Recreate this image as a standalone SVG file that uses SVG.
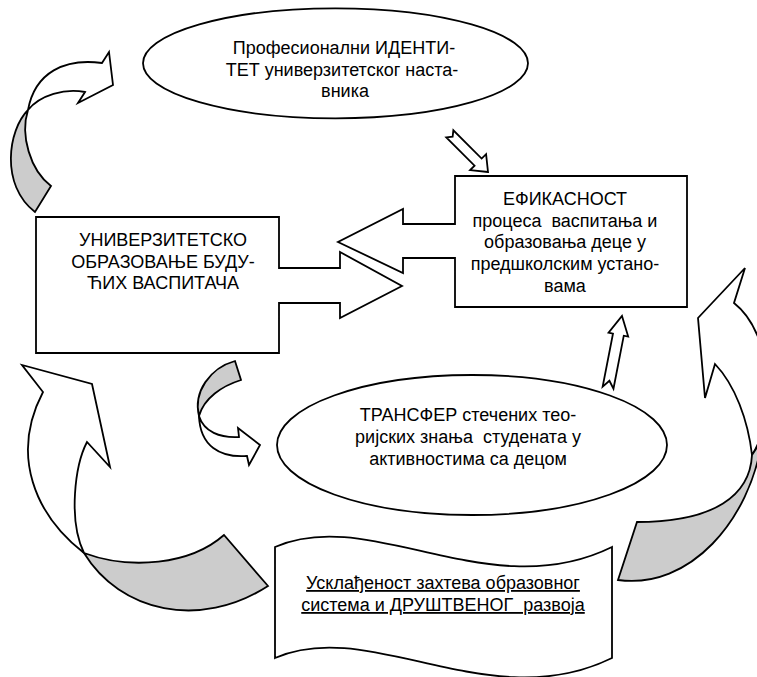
<svg xmlns="http://www.w3.org/2000/svg" width="757" height="677" viewBox="0 0 757 677">
<style>
.s{fill:#fff;stroke:#000;stroke-width:1.8;stroke-linejoin:miter}
.g{fill:#cccccc;stroke:#000;stroke-width:1.8;stroke-linejoin:miter}
.t{font-family:"Liberation Sans",Arial,sans-serif;font-size:18px;text-anchor:middle;fill:#000;white-space:pre}
.u{text-decoration:underline}
</style>
<rect width="757" height="677" fill="#fff"/>
<g id="connectors">
  <path class="s" d="M 28,110 C 35,72 65,58 102,63 L 109,52 L 113,85 L 78,103 L 85,92 C 65,88 40,95 28,110 Z"/>
  <path class="g" d="M 28,110 C 8,130 0,185 35,212 L 51,186 C 30,170 20,135 28,110 Z"/>
  <path class="s" d="M 199,416 C 204,432 220,438 239,437 L 238,428 L 260,445 L 249,465 L 247,456 C 220,458 200,446 199,416 Z"/>
  <path class="g" d="M 199,416 C 193,392 210,368 235,361 L 241,380 C 222,386 204,398 199,416 Z"/>
  <path class="s" d="M 84,553 C 35,515 10,455 43,392 L 22,365 L 92,384 L 110,467 L 87,442 C 75,465 68,520 84,553 Z"/>
  <path class="g" d="M 84,553 C 120,612 200,630 268,586 L 224,535 C 190,565 130,570 84,553 Z"/>
  <path class="s" d="M 734,303 C 775,335 775,420 752,455 C 748,420 735,385 715,364 L 705,398 L 698,318 L 745,268 Z"/>
  <path class="g" d="M 752,455 C 750,495 715,522 637,522 L 618,580 C 690,590 750,520 762,440 Z"/>
  <polygon class="s" transform="translate(488,172) rotate(45)" points="0,0 -14,11.3 -14,5 -54,5 -50,0 -54,-5 -14,-5 -14,-11.3"/>
  <polygon class="s" transform="translate(622,316) rotate(-79)" points="0,0 -19,10 -19,5.5 -73,5.5 -66,0 -73,-5.5 -19,-5.5 -19,-10"/>
</g>
<g id="identitet">
  <ellipse class="s" cx="335.5" cy="63.3" rx="192.5" ry="55"/>
  <text class="t" x="344" y="54">Професионални ИДЕНТИ-</text>
  <text class="t" x="342" y="76">ТЕТ универзитетског наста-</text>
  <text class="t" x="345" y="97">вника</text>
</g>
<g id="obrazovanje">
  <polygon class="s" points="36,217 279,217 279,268 340,268 340,252 402,286 340,318 340,303 279,303 279,353 36,353"/>
  <text class="t" x="163" y="246">УНИВЕРЗИТЕТСКО</text>
  <text class="t" x="163" y="268">ОБРАЗОВАЊЕ БУДУ-</text>
  <text class="t" x="163" y="289">ЋИХ ВАСПИТАЧА</text>
</g>
<g id="efikasnost">
  <polygon class="s" points="455,176 687,176 687,307 455,307 455,258 403,258 403,273 338,242 403,209 403,224 455,224"/>
  <text class="t" x="565" y="205">ЕФИКАСНОСТ</text>
  <text class="t" x="565" y="227" xml:space="preserve">процеса  васпитања и</text>
  <text class="t" x="565" y="248">образовања деце у</text>
  <text class="t" x="565" y="270">предшколским устано-</text>
  <text class="t" x="565" y="292">вама</text>
</g>
<g id="transfer">
  <ellipse class="s" cx="472" cy="445" rx="195" ry="70"/>
  <text class="t" x="468" y="421">ТРАНСФЕР стечених тео-</text>
  <text class="t" x="468" y="443" xml:space="preserve">ријских знања  студената у</text>
  <text class="t" x="468" y="465">активностима са децом</text>
</g>
<g id="uskladjenost">
  <path class="s" d="M 275,547 C 370,505 490,607 612,547 L 612,658 C 490,718 370,616 275,658 Z"/>
  <text class="t u" x="443" y="589">Усклађеност захтева образовног</text>
  <text class="t u" x="443" y="611" xml:space="preserve">система и ДРУШТВЕНОГ  развоја</text>
</g>
</svg>
